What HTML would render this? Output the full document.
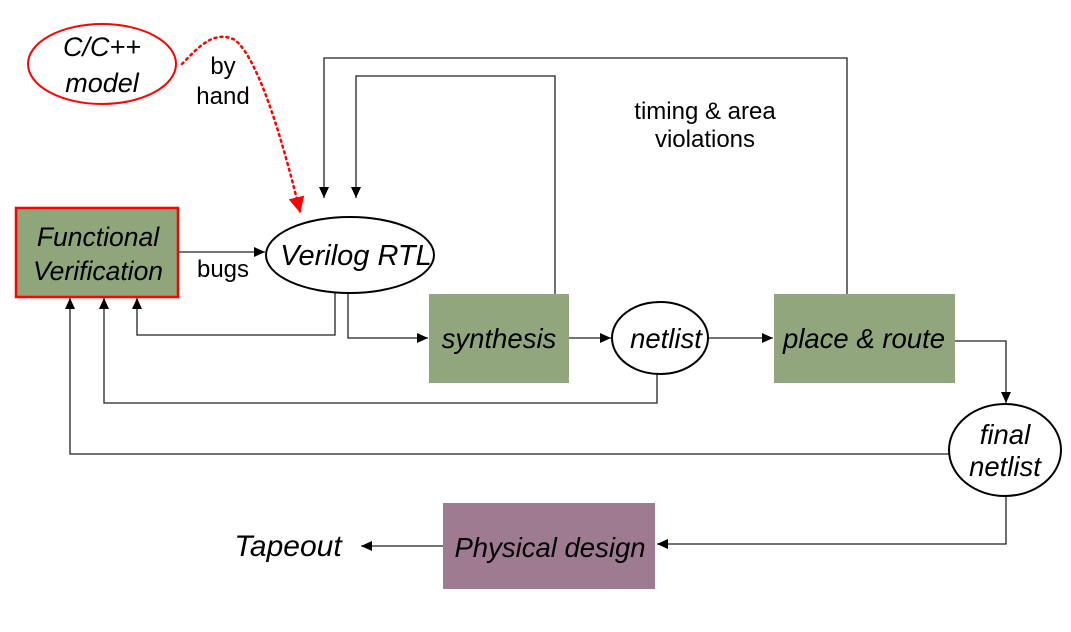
<!DOCTYPE html>
<html><head><meta charset="utf-8"><style>
html,body{margin:0;padding:0;background:#fff;}
svg{display:block;font-family:"Liberation Sans",Arial,sans-serif;}
</style></head><body>
<svg width="1071" height="632" viewBox="0 0 1071 632" xmlns="http://www.w3.org/2000/svg">
<defs>
<marker id="a" markerWidth="12" markerHeight="12" refX="11" refY="6" orient="auto" markerUnits="userSpaceOnUse"><path d="M0,1 L11,6 L0,11 z" fill="#000"/></marker>
<marker id="r" markerWidth="16" markerHeight="16" refX="15" refY="8" orient="auto" markerUnits="userSpaceOnUse"><path d="M0,0 L16,8 L0,16 z" fill="#f00"/></marker>
</defs>
<g fill="none" stroke="#222" stroke-width="1.3">
<polyline points="178,252 265,252" marker-end="url(#a)"/>
<polyline points="847,294 847,58 324,58 324,198" marker-end="url(#a)"/>
<polyline points="555,294 555,76 356,76 356,198" marker-end="url(#a)"/>
<polyline points="335,293 335,335 137,335 137,298" marker-end="url(#a)"/>
<polyline points="348,293 348,338 428,338" marker-end="url(#a)"/>
<polyline points="569,338 611,338" marker-end="url(#a)"/>
<polyline points="708,338 773,338" marker-end="url(#a)"/>
<polyline points="657,374 657,403 104,403 104,298" marker-end="url(#a)"/>
<polyline points="955,341 1006,341 1006,403" marker-end="url(#a)"/>
<polyline points="949,454 70,454 70,298" marker-end="url(#a)"/>
<polyline points="1006,496 1006,544 657,544" marker-end="url(#a)"/>
<polyline points="443,546 361,546" marker-end="url(#a)"/>
</g>
<path d="M182,64 C200,45 215,30 235,40 C260,60 285,150 300,212" fill="none" stroke="#f00" stroke-width="2.5" stroke-dasharray="2,4" stroke-linecap="round" marker-end="url(#r)"/>
<ellipse cx="102" cy="64" rx="74" ry="40" fill="#fff" stroke="#f00" stroke-width="2"/>
<rect x="16" y="208" width="162" height="89" fill="#8fa57a" stroke="#f00" stroke-width="2.5"/>
<ellipse cx="350" cy="255" rx="84" ry="38" fill="#fff" stroke="#000" stroke-width="2"/>
<rect x="429" y="294" width="140" height="89" fill="#91a67c"/>
<ellipse cx="660" cy="338" rx="48" ry="36" fill="#fff" stroke="#000" stroke-width="2"/>
<rect x="774" y="294" width="181" height="89" fill="#91a67c"/>
<ellipse cx="1005" cy="450" rx="56" ry="46" fill="#fff" stroke="#000" stroke-width="2"/>
<rect x="443" y="503" width="212" height="86" fill="#9e7b90"/>
<g font-style="italic" font-size="27.5" text-anchor="middle" fill="#000">
<text x="102" y="56" font-size="27">C/C++</text>
<text x="102" y="92" font-size="27">model</text>
<text x="98" y="246" font-size="26.5">Functional</text>
<text x="98" y="280" font-size="26.5">Verification</text>
<text x="356" y="265" font-size="29">Verilog RTL</text>
<text x="499" y="348">synthesis</text>
<text x="666" y="348">netlist</text>
<text x="864" y="348">place &amp; route</text>
<text x="1005" y="444">final</text>
<text x="1005" y="476">netlist</text>
<text x="550" y="557">Physical design</text>
<text x="288" y="556" font-size="30">Tapeout</text>
</g>
<g font-size="24" text-anchor="middle" fill="#000">
<text x="223" y="74">by</text>
<text x="223" y="104">hand</text>
<text x="223" y="277">bugs</text>
<text x="705" y="119">timing &amp; area</text>
<text x="705" y="147">violations</text>
</g>
</svg>
</body></html>
